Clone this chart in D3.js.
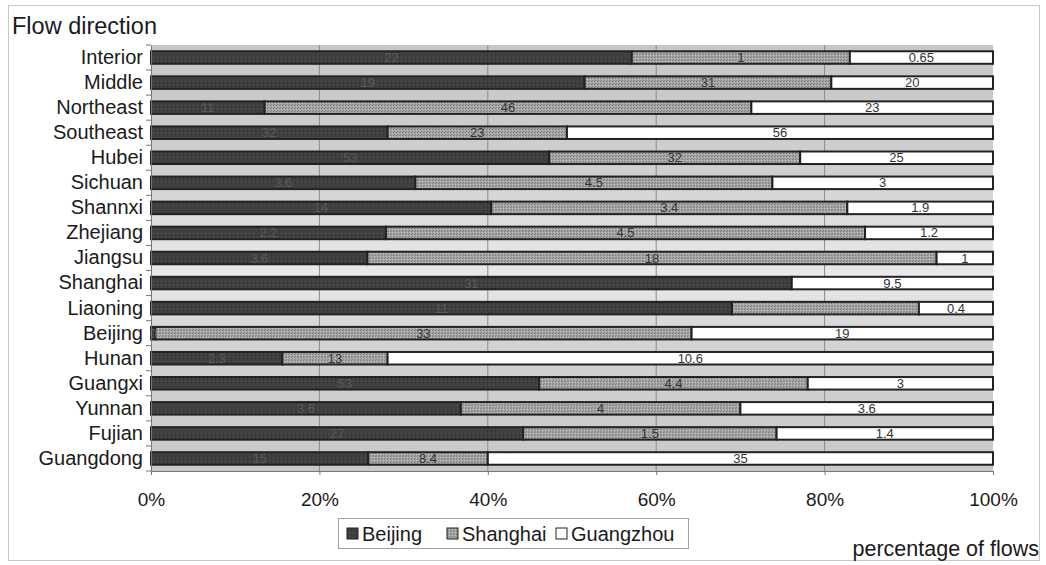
<!DOCTYPE html>
<html>
<head>
<meta charset="utf-8">
<script src="https://cdn.jsdelivr.net/npm/d3@7"></script>
<style>
  body { margin: 0; background: #fff; }
  text { font-family: "Liberation Sans", Arial, sans-serif; }
</style>
</head>
<body>
<svg id="chart" width="1046" height="565"></svg>
<script>
// Flow destinations by region, as shares (%) of all flows
const regions = ["Interior", "Middle", "Northeast", "Southeast", "Hubei", "Sichuan", "Shannxi",
  "Zhejiang", "Jiangsu", "Shanghai", "Liaoning", "Beijing", "Hunan", "Guangxi", "Yunnan",
  "Fujian", "Guangdong"];
const seriesNames = ["Beijing", "Shanghai", "Guangzhou"];

const beijingShare   = [57.1, 51.5, 13.5, 28.1, 47.3, 31.4, 40.4, 27.9, 25.7, 76.1, 69.0, 0.5, 15.6, 46.1, 36.8, 44.2, 25.8];
const shanghaiShare  = [25.9, 29.3, 57.8, 21.3, 29.8, 42.4, 42.3, 56.9, 67.6, 0.0, 22.2, 63.7, 12.5, 31.9, 33.2, 30.1, 14.2];
const guangzhouShare = [17.0, 19.2, 28.7, 50.6, 22.9, 26.2, 17.3, 15.2, 6.7, 23.9, 8.8, 35.8, 71.9, 22.0, 30.0, 25.7, 60.0];

// Data labels printed on the segments
const beijingLabels   = ["22", "19", "11", "32", "53", "3.6", "14", "2.2", "3.6", "31", "11", "0", "2.3", "53", "3.6", "27", "15"];
const shanghaiLabels  = ["1", "31", "46", "23", "32", "4.5", "3.4", "4.5", "18", "", "", "33", "13", "4.4", "4", "1.5", "8.4"];
const guangzhouLabels = ["0.65", "20", "23", "56", "25", "3", "1.9", "1.2", "1", "9.5", "0.4", "19", "10.6", "3", "3.6", "1.4", "35"];

const xTicks = [0, 20, 40, 60, 80, 100];

const rows = regions.map((r, i) => ({
  region: r,
  Beijing: beijingShare[i], Shanghai: shanghaiShare[i], Guangzhou: guangzhouShare[i],
  labels: { Beijing: beijingLabels[i], Shanghai: shanghaiLabels[i], Guangzhou: guangzhouLabels[i] }
}));

const svg = d3.select("#chart");
const plot = { left: 151, right: 993, top: 45, bottom: 471 };
const FONT = "'Liberation Sans', Arial, sans-serif";

// textures for the bar fills
const defs = svg.append("defs");
const pDark = defs.append("pattern").attr("id", "texDark").attr("width", 4).attr("height", 4).attr("patternUnits", "userSpaceOnUse");
pDark.append("rect").attr("width", 4).attr("height", 4).attr("fill", "#3f3f3f");
pDark.append("rect").attr("x", 1).attr("y", 1).attr("width", 1).attr("height", 1).attr("fill", "#555");
pDark.append("rect").attr("x", 3).attr("y", 2).attr("width", 1).attr("height", 1).attr("fill", "#2e2e2e");
const pMid = defs.append("pattern").attr("id", "texMid").attr("width", 3).attr("height", 3).attr("patternUnits", "userSpaceOnUse");
pMid.append("rect").attr("width", 3).attr("height", 3).attr("fill", "#a4a4a4");
pMid.append("rect").attr("x", 0).attr("y", 0).attr("width", 1).attr("height", 1).attr("fill", "#7a7a7a");
pMid.append("rect").attr("x", 2).attr("y", 1).attr("width", 1).attr("height", 1).attr("fill", "#c4c4c4");
pMid.append("rect").attr("x", 1).attr("y", 2).attr("width", 1).attr("height", 1).attr("fill", "#858585");

const bg = defs.append("linearGradient").attr("id", "plotBg").attr("x1", 0).attr("y1", 0).attr("x2", 0).attr("y2", 1);
[[0, "#c6c6c6"], [0.3, "#d0d0d0"], [0.45, "#e2e2e2"], [0.55, "#eaeaea"], [0.68, "#d4d4d4"], [1, "#c8c8c8"]]
  .forEach(([o, c]) => bg.append("stop").attr("offset", o).attr("stop-color", c));

const fills = { Beijing: "url(#texDark)", Shanghai: "url(#texMid)", Guangzhou: "#ffffff" };
const legendFills = { Beijing: "url(#texDark)", Shanghai: "url(#texMid)", Guangzhou: "#fff" };

// outer chart frame
svg.append("rect").attr("x", 8.5).attr("y", 5.5).attr("width", 1031).attr("height", 555)
  .attr("fill", "#fff").attr("stroke", "#c8c8c8");

const x = d3.scaleLinear().domain([0, 100]).range([plot.left, plot.right]);
const y = d3.scaleBand().domain(regions).range([plot.top, plot.bottom]).paddingInner(0.5).paddingOuter(0.25);

// plot area
svg.append("rect").attr("x", plot.left).attr("y", plot.top)
  .attr("width", plot.right - plot.left).attr("height", plot.bottom - plot.top)
  .attr("fill", "url(#plotBg)");

// vertical gridlines
svg.append("g").selectAll("line").data(xTicks.slice(1, -1)).join("line")
  .attr("x1", d => x(d)).attr("x2", d => x(d))
  .attr("y1", plot.top).attr("y2", plot.bottom)
  .attr("stroke", "#8c8c8c").attr("stroke-width", 1);

// stacked bars
const layers = d3.stack().keys(seriesNames)(rows);
const gBars = svg.append("g");
layers.forEach(layer => {
  gBars.append("g").selectAll("rect").data(layer).join("rect")
    .attr("x", d => x(d[0]))
    .attr("y", d => y(d.data.region))
    .attr("width", d => Math.max(0, x(d[1]) - x(d[0])))
    .attr("height", y.bandwidth())
    .attr("fill", fills[layer.key])
    .attr("stroke", "#222").attr("stroke-width", 2);
});

// segment labels
layers.forEach(layer => {
  gBars.append("g").selectAll("text").data(layer.filter(d => d.data.labels[layer.key] !== "")).join("text")
    .attr("x", d => (x(d[0]) + x(d[1])) / 2)
    .attr("y", d => y(d.data.region) + y.bandwidth() / 2 + 4.5)
    .attr("text-anchor", "middle")
    .attr("font-size", 13)
    .attr("fill", layer.key === "Beijing" ? "#5a5a5a" : "#333")
    .text(d => d.data.labels[layer.key]);
});

// category axis
const yAxis = svg.append("g").attr("transform", `translate(${plot.left},0)`)
  .call(d3.axisLeft(y).tickSize(0).tickPadding(8));
yAxis.select(".domain").attr("stroke", "#777");
yAxis.selectAll("text").attr("font-size", 20).attr("fill", "#1a1a1a").style("font-family", FONT);
// tick marks between categories
svg.append("g").selectAll("line").data(d3.range(regions.length + 1)).join("line")
  .attr("x1", plot.left - 5).attr("x2", plot.left)
  .attr("y1", i => plot.top + i * (plot.bottom - plot.top) / regions.length)
  .attr("y2", i => plot.top + i * (plot.bottom - plot.top) / regions.length)
  .attr("stroke", "#777");

// value axis
const xAxis = svg.append("g").attr("transform", `translate(0,${plot.bottom})`)
  .call(d3.axisBottom(x).tickValues(xTicks).tickFormat(d => d + "%").tickSize(4).tickPadding(18));
xAxis.select(".domain").attr("stroke", "#777");
xAxis.selectAll("line").attr("stroke", "#777");
xAxis.selectAll("text").attr("font-size", 19).attr("fill", "#1a1a1a").style("font-family", FONT);

// titles
svg.append("text").attr("x", 12).attr("y", 34).attr("font-size", 23.5).attr("fill", "#1a1a1a").text("Flow direction");
svg.append("text").attr("x", 1039).attr("y", 556).attr("text-anchor", "end")
  .attr("font-size", 21.5).attr("fill", "#1a1a1a").text("percentage of flows");

// legend
const lg = svg.append("g");
lg.append("rect").attr("x", 338.5).attr("y", 518.5).attr("width", 350).attr("height", 30)
  .attr("fill", "#fff").attr("stroke", "#a0a0a0");
const legendX = [347, 447, 556];
seriesNames.forEach((s, i) => {
  lg.append("rect").attr("x", legendX[i]).attr("y", 528).attr("width", 11).attr("height", 11)
    .attr("fill", legendFills[s]).attr("stroke", "#222");
  lg.append("text").attr("x", legendX[i] + 15).attr("y", 540.5).attr("font-size", 20)
    .attr("fill", "#1a1a1a").text(s);
});
</script>
</body>
</html>
